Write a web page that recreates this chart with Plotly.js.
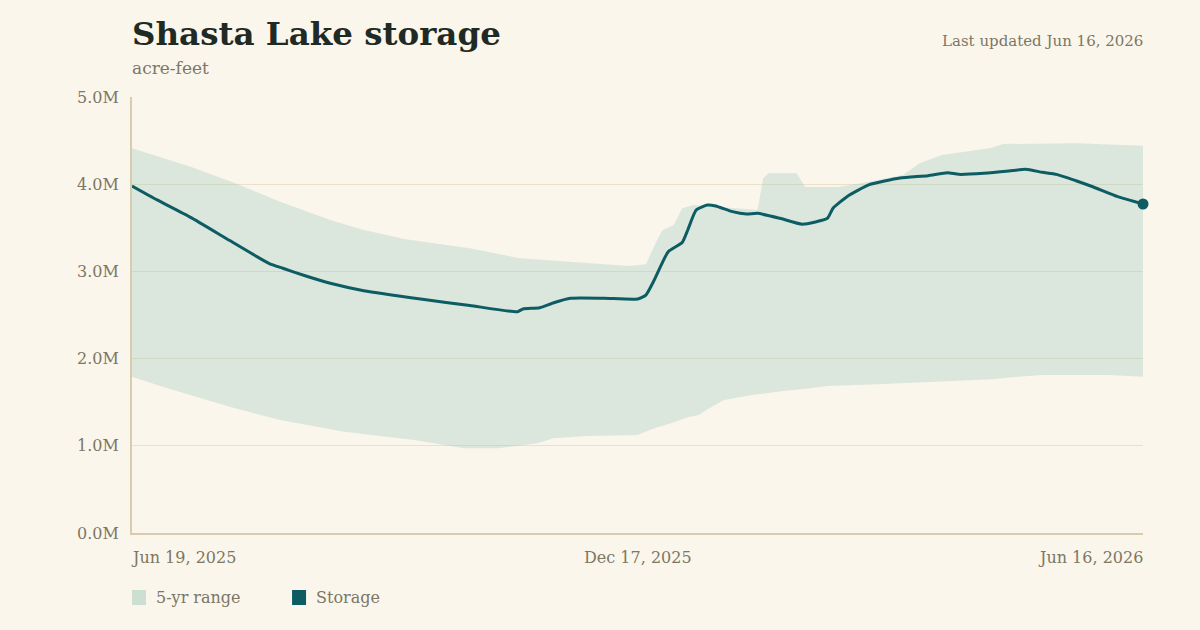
<!DOCTYPE html>
<html>
<head>
<meta charset="utf-8">
<script src="https://cdn.plot.ly/plotly-3.0.1.min.js"></script>
<style>
html,body{margin:0;padding:0;background:#faf6ec;}
#chart{width:1200px;height:630px;}
</style>
</head>
<body>
<div id="chart"></div>
<script>
// ---- Data ----
const storageDates = ['2025-06-19','2025-06-28','2025-07-10','2025-07-24','2025-08-07','2025-08-12','2025-08-20','2025-08-29','2025-09-10','2025-10-01','2025-10-18','2025-11-04','2025-11-06','2025-11-12','2025-11-17','2025-11-23','2025-12-05','2025-12-17','2025-12-20','2025-12-23','2025-12-28','2026-01-02','2026-01-04','2026-01-07','2026-01-11','2026-01-14','2026-01-20','2026-01-25','2026-01-29','2026-02-06','2026-02-14','2026-02-23','2026-02-25','2026-03-02','2026-03-10','2026-03-21','2026-03-31','2026-04-07','2026-04-11','2026-04-20','2026-04-29','2026-05-05','2026-05-11','2026-05-16','2026-05-23','2026-05-29','2026-06-07','2026-06-16'];
const storage = [3.98,3.82,3.62,3.354,3.093,3.036,2.95,2.864,2.779,2.68,2.609,2.538,2.569,2.584,2.641,2.692,2.692,2.683,2.729,2.901,3.226,3.331,3.475,3.704,3.761,3.75,3.685,3.658,3.666,3.609,3.541,3.609,3.724,3.857,3.995,4.071,4.098,4.132,4.113,4.125,4.151,4.171,4.136,4.113,4.04,3.971,3.857,3.773];

const upperDates = ['2025-06-19','2025-06-25','2025-07-10','2025-07-26','2025-08-11','2025-08-29','2025-09-10','2025-09-25','2025-10-18','2025-11-05','2025-11-23','2025-12-05','2025-12-14','2025-12-20','2025-12-24','2025-12-26','2025-12-30','2026-01-02','2026-01-06','2026-01-29','2026-01-31','2026-02-02','2026-02-12','2026-02-15','2026-02-27','2026-03-07','2026-03-22','2026-03-28','2026-04-05','2026-04-22','2026-04-27','2026-05-23','2026-06-16'];
const upper = [4.412,4.354,4.201,4.01,3.799,3.589,3.475,3.368,3.265,3.15,3.111,3.081,3.062,3.081,3.36,3.475,3.532,3.724,3.761,3.704,4.068,4.125,4.125,3.968,3.968,4.01,4.106,4.24,4.335,4.412,4.461,4.469,4.442];

const lowerDates = ['2025-06-19','2025-06-30','2025-07-24','2025-08-11','2025-09-03','2025-09-28','2025-10-16','2025-10-28','2025-11-11','2025-11-17','2025-11-29','2025-12-17','2025-12-23','2025-12-29','2026-01-04','2026-01-08','2026-01-11','2026-01-17','2026-01-27','2026-02-08','2026-02-17','2026-02-23','2026-03-13','2026-04-05','2026-04-23','2026-05-02','2026-05-11','2026-06-04','2026-06-16'];
const lower = [1.792,1.678,1.448,1.296,1.161,1.067,0.971,0.971,1.029,1.086,1.112,1.124,1.201,1.258,1.327,1.353,1.419,1.525,1.583,1.632,1.659,1.686,1.705,1.735,1.763,1.792,1.812,1.812,1.792];

const yTickVals = [0,1,2,3,4,5];
const yTickText = ['0.0M','1.0M','2.0M','3.0M','4.0M','5.0M'];
const xTickVals = ['2025-06-19','2025-12-17','2026-06-16'];
const xTickText = ['Jun 19, 2025','Dec 17, 2025','Jun 16, 2026'];
const legendLabels = ['5-yr range','Storage'];

// ---- Styles ----
const BG = '#faf6ec';
const TEAL = '#0d5c63';
const BAND = 'rgba(150,195,182,0.30)';
const MUTED = '#7d7764';
const FONT = '"DejaVu Serif", "Liberation Serif", serif';

const M = 1e6;
const bandX = upperDates.concat(lowerDates.slice().reverse());
const bandY = upper.concat(lower.slice().reverse()).map(v => v * M);

const traces = [
  {x: bandX, y: bandY, type: 'scatter', mode: 'lines', fill: 'toself',
   fillcolor: BAND, line: {width: 0, color: BAND}, hoverinfo: 'skip', showlegend: false},
  {x: storageDates, y: storage.map(v => v * M), type: 'scatter', mode: 'lines',
   line: {color: TEAL, width: 3, shape: 'spline', smoothing: 0.5}, showlegend: false},
  {x: [storageDates[storageDates.length - 1]], y: [storage[storage.length - 1] * M],
   type: 'scatter', mode: 'markers', marker: {color: TEAL, size: 11}, cliponaxis: false, showlegend: false}
];

const annotations = [
  {text: '<b>Shasta Lake storage</b>', xref: 'paper', yref: 'paper', x: 0, y: 1.1445, xshift: -2,
   xanchor: 'left', yanchor: 'middle', showarrow: false, font: {family: FONT, size: 32.5, color: '#1f2a24'}},
  {text: 'acre-feet', xref: 'paper', yref: 'paper', x: 0, y: 1.0665, xshift: -2,
   xanchor: 'left', yanchor: 'middle', showarrow: false, font: {family: FONT, size: 17, color: MUTED}},
  {text: 'Last updated Jun 16, 2026', xref: 'paper', yref: 'paper', x: 1, y: 1.128, xshift: 2,
   xanchor: 'right', yanchor: 'middle', showarrow: false, font: {family: FONT, size: 15, color: MUTED}}
];
const anchors = ['left', 'center', 'right'];
const shifts = [-3, 0, 2];
xTickVals.forEach((d, i) => {
  annotations.push({text: xTickText[i], xref: 'x', yref: 'paper', x: d, y: -0.0573, xshift: shifts[i],
    xanchor: anchors[i], yanchor: 'middle', showarrow: false, font: {family: FONT, size: 16, color: MUTED}});
});
const swatchX = [0, 0.1583];
const swatchColors = ['rgba(150,195,182,0.45)', TEAL];
const shapes = [];
legendLabels.forEach((lab, i) => {
  shapes.push({type: 'rect', xref: 'paper', yref: 'paper', x0: swatchX[i], x1: swatchX[i] + 0.01385,
    y0: -0.1651, y1: -0.1307, fillcolor: swatchColors[i], line: {width: 0}});
  annotations.push({text: lab, xref: 'paper', yref: 'paper', x: swatchX[i] + 0.0237, y: -0.1468, xshift: -2,
    xanchor: 'left', yanchor: 'middle', showarrow: false, font: {family: FONT, size: 16, color: MUTED}});
});

const layout = {
  width: 1200, height: 630,
  paper_bgcolor: BG, plot_bgcolor: BG,
  margin: {l: 132, r: 57, t: 97, b: 97},
  font: {family: FONT, color: MUTED},
  showlegend: false,
  xaxis: {type: 'date', range: ['2025-06-19', '2026-06-16'], showgrid: false, showticklabels: false,
    showline: true, linecolor: '#d9ccae', linewidth: 2, zeroline: false, ticks: '', fixedrange: true},
  yaxis: {range: [0, 5 * M], tickvals: yTickVals.map(v => v * M), ticktext: yTickText,
    showgrid: true, gridcolor: '#ebe1c9', gridwidth: 1, showline: true, linecolor: '#d9ccae', linewidth: 2,
    zeroline: false, ticks: '', ticklabelstandoff: 8, tickfont: {family: FONT, size: 16, color: MUTED}, fixedrange: true},
  annotations: annotations,
  shapes: shapes
};

Plotly.newPlot('chart', traces, layout, {displayModeBar: false, staticPlot: true});
</script>
</body>
</html>
